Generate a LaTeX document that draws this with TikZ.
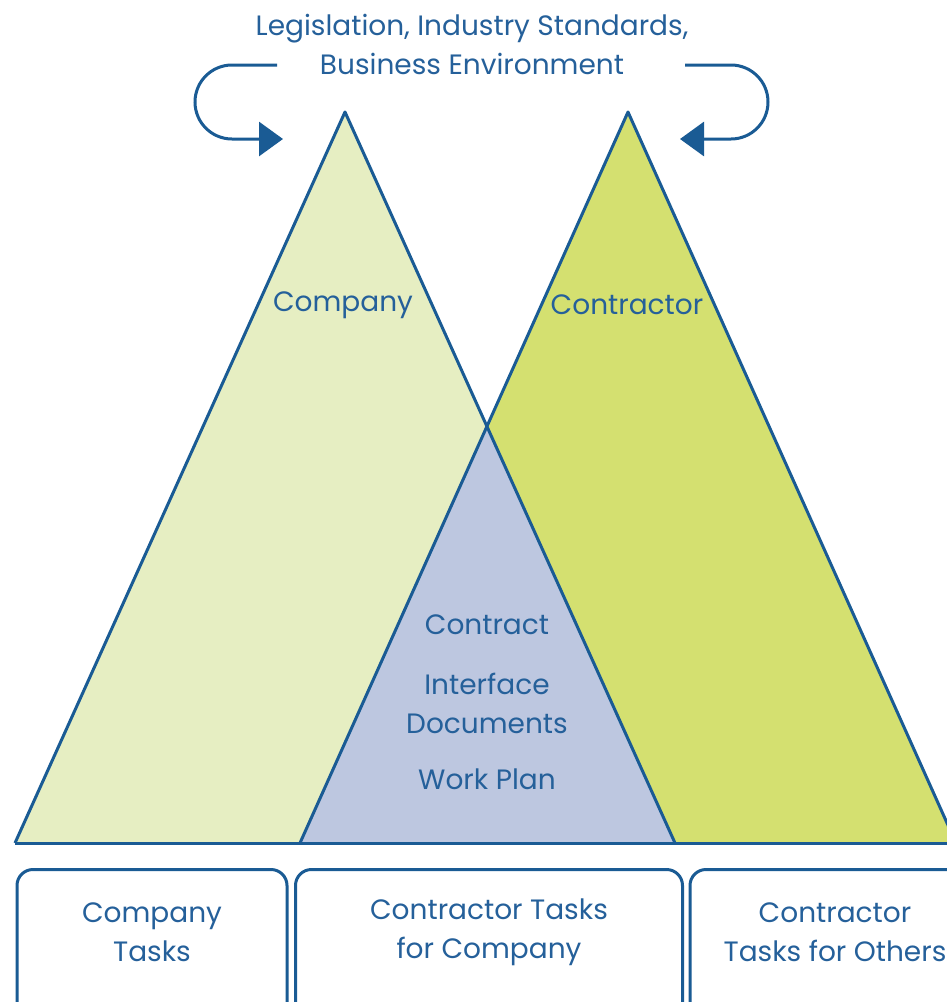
\documentclass[tikz,border=0pt]{standalone}
\usepackage{fontspec}
\setmainfont{Poppins}
\usetikzlibrary{arrows.meta}
\definecolor{lineblue}{HTML}{1A5B94}
\definecolor{textblue}{HTML}{25609A}
\definecolor{companyfill}{HTML}{E6EEC2}
\definecolor{contractorfill}{HTML}{D4E070}
\definecolor{sharedfill}{HTML}{BDC7E0}
\tikzset{
	tri/.style={draw=lineblue, line width=3pt, line join=round},
	txt/.style={text=textblue, align=center, font=\fontsize{28}{39}\selectfont, inner sep=0pt},
	taskbox/.style={draw=lineblue, line width=3pt, rounded corners=16pt, minimum height=150pt, anchor=north},
	uturn/.style={draw=lineblue, line width=3pt, -{Triangle[length=24pt,width=34pt]}}
}

\begin{document}
\begin{tikzpicture}[x=1pt, y=-1pt]
	\useasboundingbox (0,0) rectangle (947,1002);

	\coordinate (cl) at (15,843);
	\coordinate (ct) at (345,112);
	\coordinate (cr) at (675,843);
	\coordinate (kl) at (300,843);
	\coordinate (kt) at (628,112);
	\coordinate (kr) at (956,843);
	\coordinate (mid) at (intersection of ct--cr and kl--kt);

	\fill[companyfill] (cl) -- (ct) -- (cr) -- cycle;
	\fill[contractorfill] (kl) -- (kt) -- (kr) -- cycle;
	\fill[sharedfill] (kl) -- (mid) -- (cr) -- cycle;
	\draw[tri] (cl) -- (ct) -- (cr);
	\draw[tri] (kl) -- (kt) -- (kr);
	\draw[tri] (cl) -- (kr);

	\node[txt] (env) at (472,44) {Legislation, Industry Standards,\\Business Environment};
	\node[txt] (company) at (343,305) {Company};
	\node[txt] (contractor) at (627,305) {Contractor};
	\node[txt] (contract) at (487,625) {Contract};
	\node[txt] (docs) at (487,703) {Interface\\Documents};
	\node[txt] (plan) at (487,779) {Work Plan};

	\coordinate (ls) at (277,65);
	\coordinate (le) at (283,139);
	\coordinate (rs) at (685,65);
	\coordinate (re) at (680,139);
	\draw[uturn] (ls) -- (232,65) arc[start angle=270, end angle=90, radius=37] -- (le);
	\draw[uturn] (rs) -- (731,65) arc[start angle=270, end angle=450, radius=37] -- (re);

	\node[taskbox, minimum width=270pt] (b1) at (152,868) {};
	\node[taskbox, minimum width=387pt] (b2) at (489,868) {};
	\node[taskbox, minimum width=290pt] (b3) at (835,868) {};
	\node[txt] at ([yshift=-64pt]b1.north) {Company\\Tasks};
	\node[txt] at ([yshift=-64pt]b2.north) {Contractor Tasks\\for Company};
	\node[txt] at ([yshift=-64pt]b3.north) {Contractor\\Tasks for Others};
\end{tikzpicture}
\end{document}
